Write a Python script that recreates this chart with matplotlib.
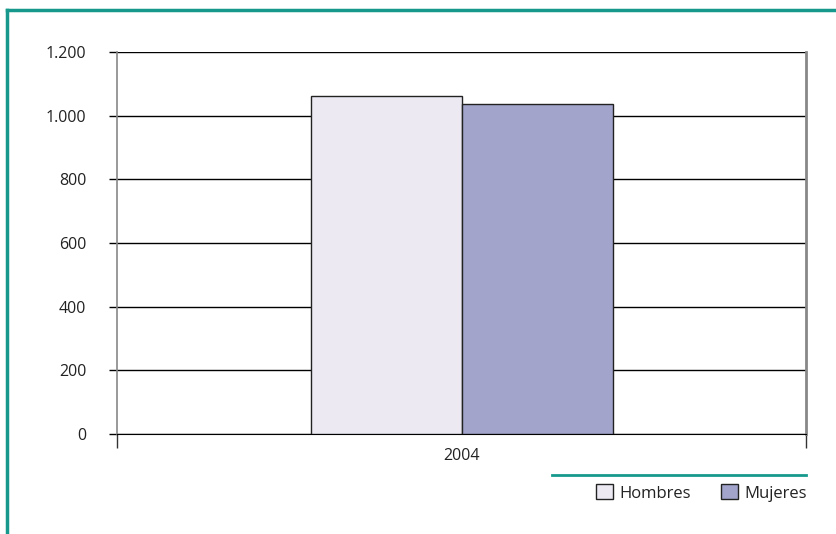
import matplotlib
matplotlib.use("Agg")
import matplotlib.pyplot as plt
from matplotlib.lines import Line2D
from matplotlib.ticker import FuncFormatter

plt.rcParams['font.family'] = ['Open Sans', 'DejaVu Sans']

# datos
years = ["2004"]
series = ["Hombres", "Mujeres"]
hombres = [1062]
mujeres = [1037]
colors = ["#ECE9F3", "#A2A4CB"]
teal = "#16998C"

fig = plt.figure(figsize=(8.36, 5.34), dpi=100)
ax = fig.add_axes([117/836, 1-434/534, 689/836, 382/534])

w = 151/689
ax.bar([-w/2], hombres, width=w, color=colors[0], edgecolor="#222222", linewidth=1, label=series[0], zorder=3)
ax.bar([w/2], mujeres, width=w, color=colors[1], edgecolor="#222222", linewidth=1, label=series[1], zorder=3)

ax.set_xlim(-0.5, 0.5)
ax.set_ylim(0, 1200)
ax.set_yticks(range(0, 1201, 200))
ax.yaxis.set_major_formatter(FuncFormatter(lambda v, p: f"{int(v):,}".replace(",", ".")))
ax.yaxis.grid(True, color="black", linewidth=1, zorder=0)
ax.tick_params(axis='y', length=6, width=1, labelsize=11.5, pad=16, color="black", labelcolor="#222222")

ax.set_xticks([0])
ax.set_xticklabels(years)
ax.set_xticks([-0.5, 0.5], minor=True)
ax.tick_params(axis='x', which='major', length=0, labelsize=11.5, pad=10, labelcolor="#222222")
ax.tick_params(axis='x', which='minor', length=10, width=1, color="#333333")

ax.spines['top'].set_visible(False)
ax.spines['bottom'].set_color("black")
ax.spines['left'].set_color("#888888")
ax.spines['right'].set_color("#888888")
ax.spines['left'].set_linewidth(1.2)
ax.spines['right'].set_linewidth(2)

# marco
fig.add_artist(Line2D([7/836, 1], [1-10/534, 1-10/534], color=teal, linewidth=2.5))
fig.add_artist(Line2D([7/836, 7/836], [0, 1-10/534], color=teal, linewidth=2.5))
fig.add_artist(Line2D([552/836, 806/836], [1-475/534, 1-475/534], color=teal, linewidth=2))

leg = fig.legend(loc="center right", bbox_to_anchor=(822/836, 1-493/534), ncol=2, frameon=False,
                 fontsize=12, handlelength=1, handleheight=1, handletextpad=0.4, columnspacing=1.8)
for t in leg.get_texts():
    t.set_color("#222222")

fig.savefig("out.png", dpi=100)
